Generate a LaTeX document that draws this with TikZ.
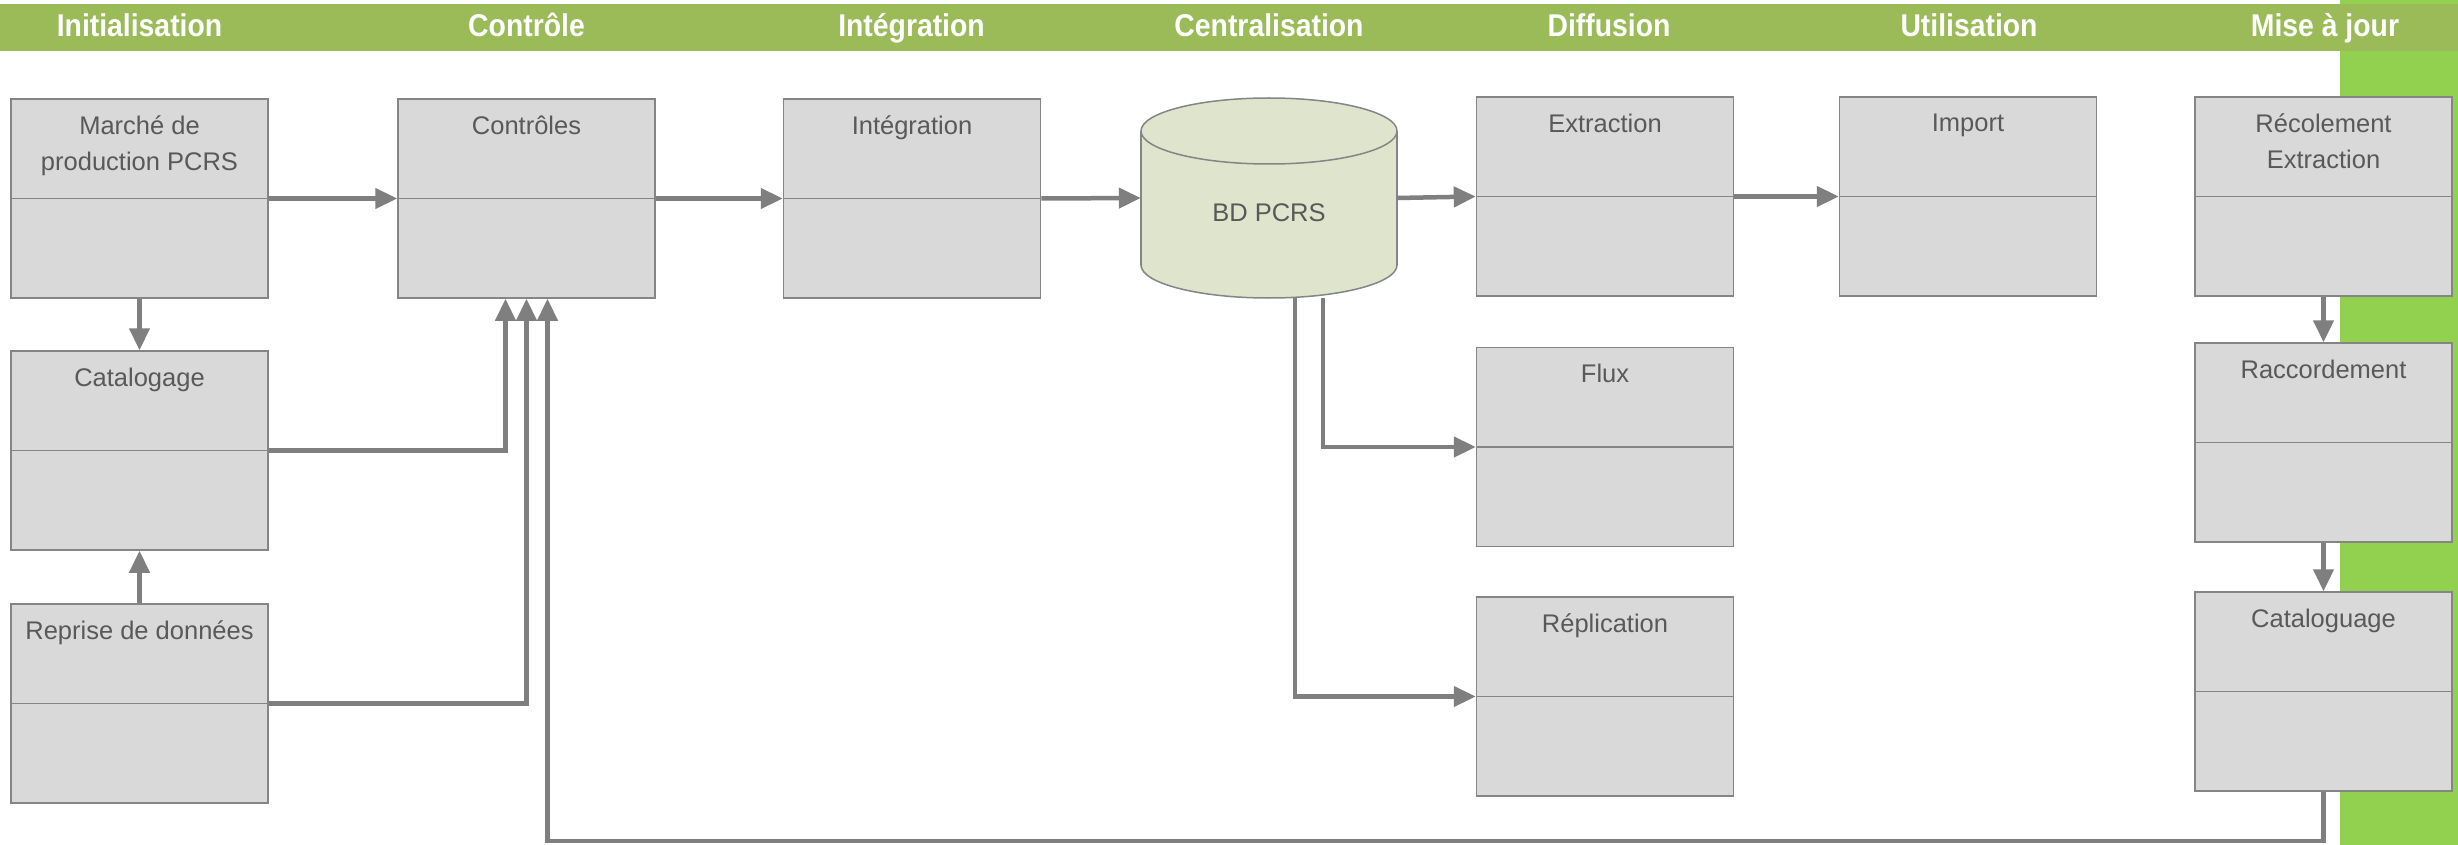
\documentclass[tikz,border=0pt]{standalone}
\usepackage{fontspec}
\setmainfont{Liberation Sans}
\newfontfamily\headfont[FakeStretch=0.9]{Liberation Sans}
\usetikzlibrary{arrows.meta}

\definecolor{barcol}{HTML}{9BBB59}
\definecolor{stripcol}{HTML}{92D050}
\definecolor{boxfill}{HTML}{D9D9D9}
\definecolor{boxline}{HTML}{858585}
\definecolor{arrowcol}{HTML}{7F7F7F}
\definecolor{dbfill}{HTML}{DFE4CD}
\definecolor{txtcol}{HTML}{595959}

\begin{document}
\begin{tikzpicture}[x=1pt, y=-1pt,
        head/.style={anchor=base, text=white, inner sep=0,
            font=\headfont\bfseries\fontsize{31.5}{32}\selectfont},
        procbox/.style={draw=boxline, fill=boxfill, line width=1.5pt,
            minimum width=257pt, minimum height=199pt, inner sep=0,
            path picture={\draw[boxline, line width=1.5pt]
                (path picture bounding box.west) -- (path picture bounding box.east);}},
        title/.style={text=txtcol, font=\fontsize{25.5}{36}\selectfont,
            align=center, anchor=north, inner sep=0, yshift=-17.5pt},
        flow/.style={draw=arrowcol, line width=4.5pt,
            -{Triangle[length=22pt, width=20pt]}}]

        \useasboundingbox (0,0) rectangle (2458,845);
        \fill[white] (0,0) rectangle (2458,845);

        % bandeaux
        \fill[stripcol] (2340,0) rectangle (2458,845);
        \fill[barcol] (0,4) rectangle (2458,51);

        \node[head] (hinit) at (139.5,37) {Initialisation};
        \node[head] (hctrl) at (526.5,37) {Contrôle};
        \node[head] (hinteg) at (911.5,37) {Intégration};
        \node[head] (hcentr) at (1269,37) {Centralisation};
        \node[head] (hdiff) at (1609,37) {Diffusion};
        \node[head] (hutil) at (1969,37) {Utilisation};
        \node[head] (hmaj) at (2325,37) {Mise à jour};

        % boites
        \node[procbox, label={[title]north:Marché de\\production PCRS}] (marche) at (139.5,198.5) {};
        \node[procbox, label={[title]north:Catalogage}] (catal) at (139.5,450.5) {};
        \node[procbox, label={[title]north:Reprise de données}] (repr) at (139.5,703.5) {};
        \node[procbox, label={[title]north:Contrôles}] (ctrl) at (526.5,198.5) {};
        \node[procbox, label={[title]north:Intégration}] (integ) at (912,198.5) {};
        \node[procbox, label={[title]north:Extraction}] (extr) at (1605,196.5) {};
        \node[procbox, label={[title]north:Flux}] (flux) at (1605,447) {};
        \node[procbox, label={[title]north:Réplication}] (repl) at (1605,696.5) {};
        \node[procbox, label={[title]north:Import}] (import) at (1968,196.5) {};
        \node[procbox, label={[title]north:Récolement\\Extraction}] (recol) at (2323.5,196.5) {};
        \node[procbox, label={[title]north:Raccordement}] (racc) at (2323.5,442.5) {};
        \node[procbox, label={[title]north:Cataloguage}] (catg) at (2323.5,691.5) {};

        % base de donnees
        \filldraw[fill=dbfill, draw=boxline, line width=1.5pt] (1269,265) ellipse [x radius=128, y radius=33];
        \fill[dbfill] (1141,131) rectangle (1397,265);
        \draw[boxline, line width=1.5pt] (1141,131) -- (1141,265);
        \draw[boxline, line width=1.5pt] (1397,131) -- (1397,265);
        \filldraw[fill=dbfill, draw=boxline, line width=1.5pt] (1269,131) ellipse [x radius=128, y radius=33];
        \node[inner sep=0, minimum width=256pt, minimum height=200pt] (bd) at (1269,198) {};
        \node[anchor=base, text=txtcol, font=\fontsize{25.5}{36}\selectfont, inner sep=0] (bdtxt) at (1269,222) {BD PCRS};

        % fleches
        \draw[flow] (marche.east) -- (ctrl.west);
        \draw[flow] (ctrl.east) -- (integ.west);
        \draw[flow] (integ.east) -- (bd.west);
        \draw[flow] (bd.east) -- (extr.west);
        \draw[flow] (extr.east) -- (import.west);
        \draw[flow] (marche.south) -- (catal.north);
        \draw[flow] (repr.north) -- (catal.south);
        \draw[flow] (catal.east) -| ([xshift=-21pt]ctrl.south);
        \draw[flow] (repr.east) -| (ctrl.south);
        \draw[flow] ([xshift=54pt]bd.south) |- (flux.west);
        \draw[flow] ([xshift=26pt]bd.south) |- (repl.west);
        \draw[flow] (recol.south) -- (racc.north);
        \draw[flow] (racc.south) -- (catg.north);

        \coordinate (retour) at (2323.5,841);
        \draw[flow] (catg.south) -- (retour) -| ([xshift=21pt]ctrl.south);
    \end{tikzpicture}
\end{document}
